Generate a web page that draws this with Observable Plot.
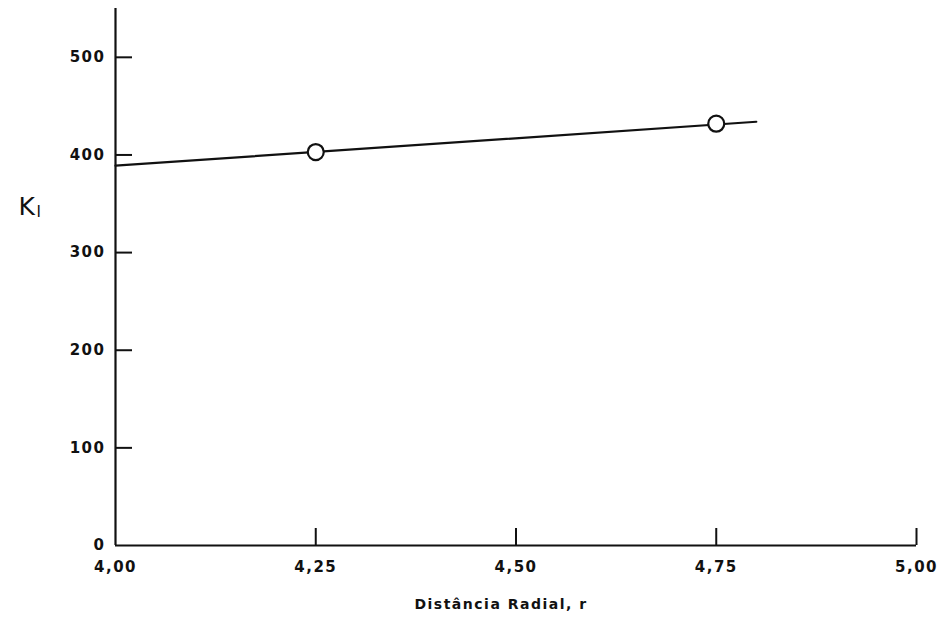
<!DOCTYPE html>
<html>
<head>
<meta charset="utf-8">
<script src="https://cdn.jsdelivr.net/npm/d3@7"></script>
<script src="https://cdn.jsdelivr.net/npm/@observablehq/plot@0.6"></script>
<style>
  body { margin: 0; background: #fff; }
</style>
</head>
<body>
<div id="chart"></div>
<script>
const xTicks = [4.00, 4.25, 4.50, 4.75, 5.00];
const xTickLabels = ["4,00", "4,25", "4,50", "4,75", "5,00"];
const yTicks = [0, 100, 200, 300, 400, 500];
const xDomain = [4.0, 5.0];
const yDomain = [0, 550];
const lineX = [4.00, 4.80];
const lineY = [389, 434];
const pointX = [4.25, 4.75];
const pointY = [403, 432];
const xLabel = "Distância Radial, r";

const W = 947, H = 622;
const mL = 115, mR = 31, mT = 8, mB = 77;
const plotW = W - mL - mR, plotH = H - mT - mB;

const lineData = lineX.map((x, i) => ({x, y: lineY[i]}));
const pointData = pointX.map((x, i) => ({x, y: pointY[i]}));

const chart = Plot.plot({
  width: W, height: H,
  marginLeft: mL, marginRight: mR, marginTop: mT, marginBottom: mB,
  style: {fontFamily: "DejaVu Sans", color: "#111", background: "#fff", letterSpacing: "1.5px"},
  x: {domain: xDomain},
  y: {domain: yDomain},
  marks: [
    Plot.axisX({ticks: xTicks, tickFormat: d => xTickLabels[xTicks.indexOf(d)], tickSize: 0, tickPadding: 16, fontSize: 15, fontWeight: "bold", label: null}),
    Plot.axisY({ticks: yTicks, tickSize: 0, tickPadding: 10, fontSize: 15, fontWeight: "bold", label: null}),
    Plot.tickY(yTicks.filter(d => d > 0), {y: d => d, insetRight: plotW - 17, stroke: "#111", strokeWidth: 2}),
    Plot.tickX(xTicks.slice(1), {x: d => d, insetTop: plotH - 17, stroke: "#111", strokeWidth: 2}),
    Plot.ruleX([xDomain[0]], {stroke: "#111", strokeWidth: 2.2}),
    Plot.ruleY([yDomain[0]], {stroke: "#111", strokeWidth: 2.2}),
    Plot.line(lineData, {x: "x", y: "y", stroke: "#111", strokeWidth: 2.2}),
    Plot.dot(pointData, {x: "x", y: "y", r: 8, fill: "#fff", stroke: "#111", strokeWidth: 2.2}),
    Plot.text([xLabel], {text: d => d, frameAnchor: "bottom", dx: -15, dy: 63, fontSize: 14, fontWeight: "bold", fill: "#111"}),
    Plot.text(["K"], {text: d => d, frameAnchor: "left", dx: -97, dy: -70, fontSize: 25, fill: "#111"}),
    Plot.text(["I"], {text: d => d, frameAnchor: "left", dx: -79, dy: -65, fontSize: 15, fill: "#111"})
  ]
});
document.getElementById("chart").appendChild(chart);
</script>
</body>
</html>
